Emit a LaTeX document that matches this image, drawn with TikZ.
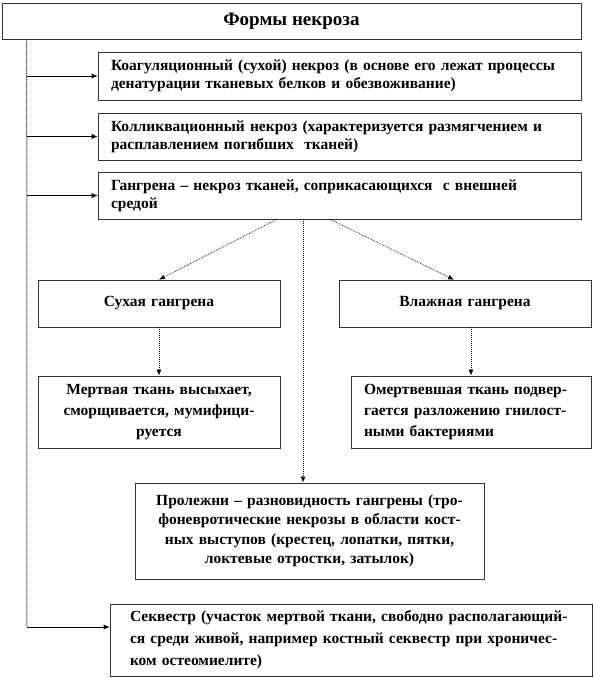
\documentclass[tikz,border=0pt]{standalone}
\usepackage{fontspec}
\setmainfont{Liberation Serif}
\usetikzlibrary{arrows.meta, calc}

\begin{document}
\begin{tikzpicture}[x=1pt, y=-1pt,
  box/.style={draw=black!80, line width=0.6pt, inner sep=0pt,
    font=\bfseries\fontsize{15.5}{18}\selectfont},
  vline/.style={densely dotted, line width=1pt},
  dline/.style={densely dotted, line width=0.7pt},
  tip/.style={-{Latex[length=6pt,width=5pt]}}
]
\useasboundingbox (0,0) rectangle (594,678);

% Boxes (top to bottom)
\node[box, font=\bfseries\fontsize{19}{22}\selectfont,
  minimum width=579, minimum height=36] (title) at (291.5,21) {Формы некроза};
\node[box, minimum width=483, minimum height=48, text width=457, align=left]
  (koag) at (339.5,76)
  {Коагуляционный (сухой) некроз (в основе его лежат процессы\\
   денатурации тканевых белков и обезвоживание)};
\node[box, minimum width=483, minimum height=47, text width=457, align=left]
  (kolliq) at (339.5,136.5)
  {Колликвационный некроз (характеризуется размягчением и\\
   расплавлением погибших\ \ тканей)};
\node[box, minimum width=483, minimum height=47, text width=457, align=left]
  (gang) at (339.5,195.5)
  {Гангрена – некроз тканей, соприкасающихся\ \ с внешней\\ средой};

\node[box, minimum width=242, minimum height=47, text width=222, align=center]
  (dry) at (159,303.5) {Сухая гангрена\\[12pt]};
\node[box, minimum width=252, minimum height=47, text width=232, align=center]
  (wet) at (465,303.5) {Влажная гангрена\\[12pt]};

\node[box, minimum width=242, minimum height=72, text width=226, align=center,
  font=\bfseries\fontsize{15.5}{21}\selectfont]
  (drytxt) at (159,412)
  {Мертвая ткань высыхает,\\ сморщивается, мумифици-\\ руется};
\node[box, minimum width=240, minimum height=72, text width=214, align=left,
  font=\bfseries\fontsize{15.5}{21}\selectfont]
  (wettxt) at (471,412)
  {Омертвевшая ткань подвер-\\ гается разложению гнилост-\\ ными бактериями};

\node[box, minimum width=349, minimum height=96, text width=330, align=center,
  font=\bfseries\fontsize{15.5}{19.5}\selectfont]
  (prol) at (309.5,531)
  {Пролежни – разновидность гангрены (тро-\\
   фоневротические некрозы в области кост-\\
   ных выступов (крестец, лопатки, пятки,\\
   локтевые отростки, затылок)\\[4pt]};
\node[box, minimum width=482, minimum height=72, text width=442, align=left,
  font=\bfseries\fontsize{15.5}{22}\selectfont]
  (sek) at (351,640)
  {Секвестр (участок мертвой ткани, свободно располагающий-\\
   ся среди живой, например костный секвестр при хроничес-\\
   ком остеомиелите)};

% Connectors
\coordinate (trunk) at ([xshift=25pt]title.south west);
\coordinate (bend) at (27,627);
\draw[vline] (trunk) -- (bend);
\draw[line width=0.7pt, tip] (bend) -- (bend -| sek.west);
\foreach \n in {koag, kolliq, gang}
  \draw[line width=0.7pt, tip] (trunk |- \n.west) -- (\n.west);

\draw[dline, tip] ([xshift=-62.5pt]gang.south) -- (dry.north);
\draw[dline, tip] ([xshift=-9.5pt]gang.south) -- ([xshift=-11pt]wet.north);
\coordinate (pn) at ([xshift=-6.5pt]prol.north);
\draw[vline, tip] (gang.south -| pn) -- (pn);

\draw[vline, tip] (dry.south) -- (drytxt.north);
\draw[vline, tip] (wet.south -| wettxt.north) -- (wettxt.north);
\end{tikzpicture}
\end{document}
